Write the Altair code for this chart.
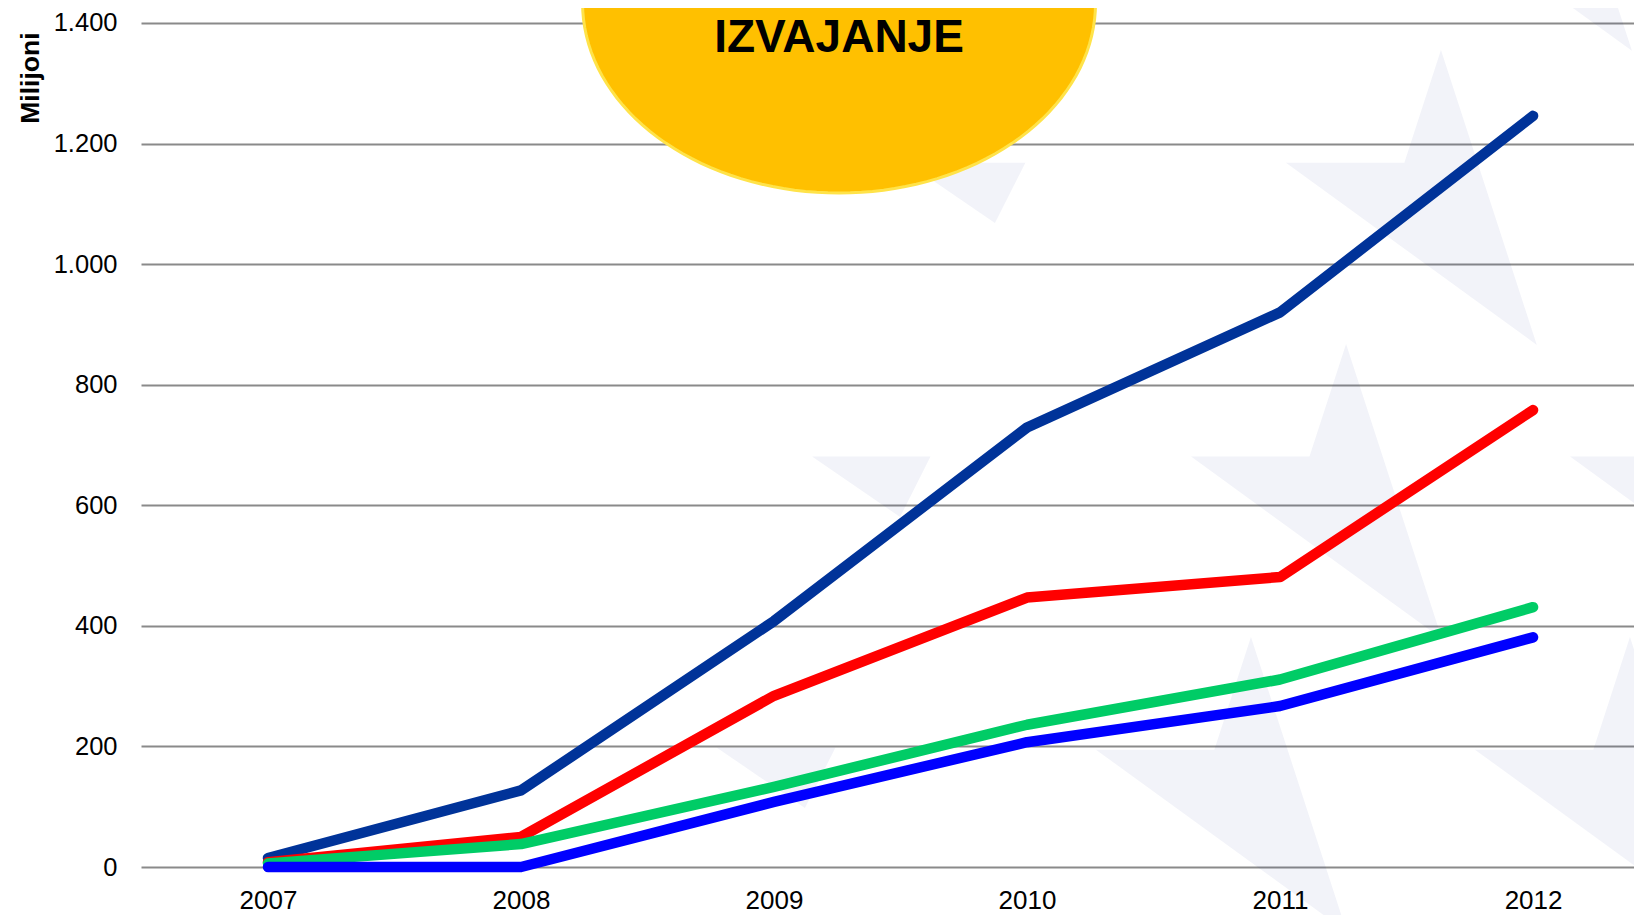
import altair as alt
import pandas as pd
import numpy as np

# ---- data ----
years = [2007, 2008, 2009, 2010, 2011, 2012]
series_names = ["Serija 1", "Serija 2", "Serija 3", "Serija 4"]
serija_1 = [15, 127, 408, 729, 920, 1246]
serija_2 = [8, 50, 284, 447, 481, 758]
serija_3 = [6, 38, 133, 236, 311, 431]
serija_4 = [0, 0, 108, 207, 267, 381]
series_colors = ["#003399", "#FF0000", "#00CC66", "#0000FF"]
y_tick_values = [0, 200, 400, 600, 800, 1000, 1200, 1400]
y_title = "Milijoni"
badge_text = "IZVAJANJE"

# decorative background stars (data coordinates: year, value)
dart_x = [2011.636, 2011.261, 2010.885, 2012.012, 2012.759, 2012.383]
dart_y = [1084.8, 597.2, 111.1, 1572.5, 597.2, 111.1]
shard_x = [2010.138, 2009.763, 2009.387]
shard_y = [1084.8, 597.2, 114.4]

# badge (yellow ellipse) position in data coordinates
badge_x = [2009.257]
badge_y = [1433.2]
badge_text_y = [1352]

# ---- build tables ----
rows = []
for name, vals in zip(series_names, [serija_1, serija_2, serija_3, serija_4]):
    for yr, v in zip(years, vals):
        rows.append({"year": yr, "value": v, "series": name})
df = pd.DataFrame(rows)

dart_df = pd.DataFrame({"year": dart_x, "value": dart_y})
shard_df = pd.DataFrame({"year": shard_x, "value": shard_y})
badge_df = pd.DataFrame({"year": badge_x, "value": badge_y})
badge_text_df = pd.DataFrame({"year": badge_x, "value": badge_text_y, "label": [badge_text]})

FONT = "Liberation Sans"

x_scale = alt.Scale(domain=[2006.498, 2012.399], nice=False, zero=False)
y_scale = alt.Scale(domain=[0, 1424.88], nice=False, zero=True)

x_axis = alt.Axis(
    values=years, format="d", grid=False, domain=False, ticks=False, tickSize=0,
    labelPadding=20, labelFontSize=26, labelFont=FONT, labelColor="black",
    labelFlush=False, title=None,
)
y_axis = alt.Axis(
    values=y_tick_values, grid=True, gridColor="#8A8A8A", gridWidth=2,
    domain=False, ticks=False, tickSize=0, labelPadding=24,
    labelFontSize=25.5, labelFont=FONT, labelColor="black",
    labelExpr="replace(format(datum.value, ','), ',', '.')",
    title=y_title, titleFont=FONT, titleFontSize=26.5, titleFontWeight="bold",
    titleColor="black", titleAngle=270, titleX=-103, titleY=24,
    titleAlign="right", titleBaseline="alphabetic",
)

X = alt.X("year:Q", scale=x_scale, axis=x_axis)
Y = alt.Y("value:Q", scale=y_scale, axis=y_axis)

dart_path = "M0,-1 L-0.2245,-0.309 L-0.951,-0.309 L0.588,0.809 Z"
shard_path = "M-0.951,-0.309 L-0.2245,-0.309 L-0.411,0.061 Z"

t = np.linspace(0, 2 * np.pi, 144, endpoint=False)
ellipse_path = "M" + " L".join(f"{np.cos(a):.4f},{0.741 * np.sin(a):.4f}" for a in t) + " Z"

STAR_SIZE = 4 * 163 ** 2

darts = alt.Chart(dart_df).mark_point(
    shape=dart_path, filled=True, color="#1A2A9A", opacity=0.055, size=STAR_SIZE, strokeWidth=0
).encode(x=X, y=Y)

shards = alt.Chart(shard_df).mark_point(
    shape=shard_path, filled=True, color="#1A2A9A", opacity=0.055, size=STAR_SIZE, strokeWidth=0
).encode(x=X, y=Y)

lines = alt.Chart(df).mark_line(
    strokeWidth=10.5, strokeCap="round", strokeJoin="round"
).encode(
    x=X,
    y=Y,
    color=alt.Color("series:N", scale=alt.Scale(domain=series_names, range=series_colors), legend=None),
    detail="series:N",
)

badge = alt.Chart(badge_df).mark_point(
    shape=ellipse_path, filled=True, fill="#FFC000", stroke="#FFE34A", strokeWidth=3,
    opacity=1, size=4 * 256.5 ** 2,
).encode(x=X, y=Y)

badge_label = alt.Chart(badge_text_df).mark_text(
    font=FONT, fontSize=46, fontWeight="bold", color="black", align="center", baseline="alphabetic"
).encode(x=X, y=Y, text="label:N")

chart = alt.layer(darts, shards, lines, badge, badge_label).properties(
    width=1493,
    height=859,
    padding={"left": 133, "top": 0, "right": 0, "bottom": 48},
    autosize=alt.AutoSizeParams(type="none"),
    background="white",
).configure_view(stroke=None)

chart.save("out.html", embed_options={"renderer": "svg", "actions": False})
